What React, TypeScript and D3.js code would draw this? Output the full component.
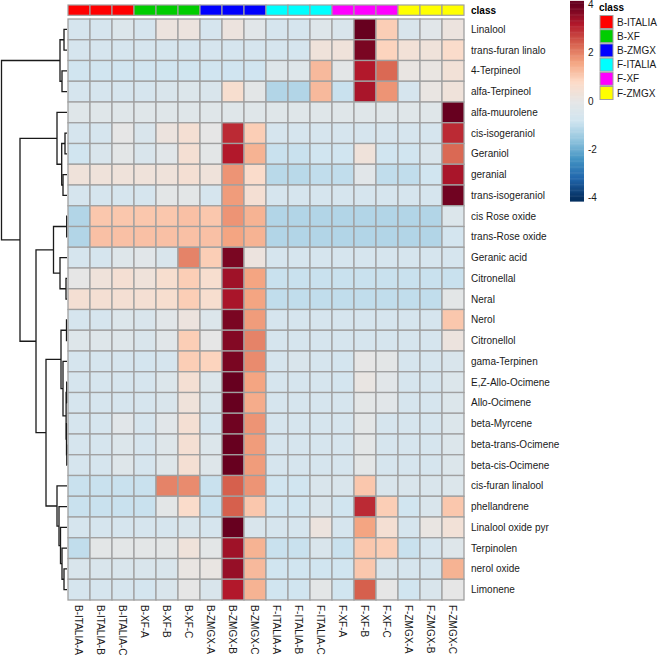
import React from "react";
import * as d3 from "d3";

// row and column labels (order as drawn)
const rowNames = [
  "Linalool", "trans-furan linalo", "4-Terpineol", "alfa-Terpineol", "alfa-muurolene",
  "cis-isogeraniol", "Geraniol", "geranial", "trans-isogeraniol", "cis Rose oxide",
  "trans-Rose oxide", "Geranic acid", "Citronellal", "Neral", "Nerol", "Citronellol",
  "gama-Terpinen", "E,Z-Allo-Ocimene", "Allo-Ocimene", "beta-Myrcene", "beta-trans-Ocimene",
  "beta-cis-Ocimene", "cis-furan linalool", "phellandrene", "Linalool oxide pyr",
  "Terpinolen", "nerol oxide", "Limonene",
];
const colNames = [
  "B-ITALIA-A", "B-ITALIA-B", "B-ITALIA-C", "B-XF-A", "B-XF-B", "B-XF-C",
  "B-ZMGX-A", "B-ZMGX-B", "B-ZMGX-C", "F-ITALIA-A", "F-ITALIA-B", "F-ITALIA-C",
  "F-XF-A", "F-XF-B", "F-XF-C", "F-ZMGX-A", "F-ZMGX-B", "F-ZMGX-C",
];
const colClass = [
  "B-ITALIA", "B-ITALIA", "B-ITALIA", "B-XF", "B-XF", "B-XF",
  "B-ZMGX", "B-ZMGX", "B-ZMGX", "F-ITALIA", "F-ITALIA", "F-ITALIA",
  "F-XF", "F-XF", "F-XF", "F-ZMGX", "F-ZMGX", "F-ZMGX",
];
const classNames = ["B-ITALIA", "B-XF", "B-ZMGX", "F-ITALIA", "F-XF", "F-ZMGX"];
const classColors = ["#FF0000", "#00CD00", "#0000FF", "#00FFFF", "#FF00FF", "#FFFF00"];
const legendTicks = [4, 2, 0, -2, -4];

// scaled values, one list per row
const values = [
  [-0.6, -0.6, -0.4, -0.6, 0.2, 0.2, -0.6, 0.2, -0.2, -0.6, -0.6, -0.3, -0.5, 4.0, 1.0, -0.5, -0.2, 0.2],
  [-0.6, -0.6, -0.6, -0.6, -0.6, -0.6, -0.6, -0.6, -0.6, -0.6, -0.6, 0.3, 0.3, 3.8, 0.9, 0.4, 0.3, 0.7],
  [-0.8, -0.8, -0.8, -0.8, -0.8, -0.8, -0.8, -0.8, -0.8, -0.3, -0.3, 1.3, -0.1, 3.2, 2.3, 0.1, 0.1, 0.4],
  [-0.6, -0.6, -0.6, -0.6, -0.5, -0.4, -0.5, 0.6, -0.1, -1.2, -1.2, 1.3, -0.9, 3.3, 1.8, -0.6, 0.1, 0.3],
  [-0.25, -0.25, -0.25, -0.25, -0.25, -0.25, -0.25, -0.25, -0.25, -0.25, -0.25, -0.25, -0.25, -0.25, -0.25, -0.25, -0.25, 4.2],
  [-0.6, -0.6, 0, -0.5, 0.2, 0.5, 0, 3.0, 1.0, -0.6, -0.6, -0.6, -0.6, -0.6, -0.6, -0.6, -0.6, 3.0],
  [-0.8, -0.5, -0.1, -0.5, -0.2, 0.5, -0.1, 3.2, 1.4, -0.9, -0.9, -0.8, -0.8, 0.3, -0.8, -0.8, -0.5, 2.3],
  [0.3, 0.3, 0.3, 0.3, 0.3, 0.5, 0.3, 1.8, 0.7, -1.1, -1.1, -1.0, -1.0, -0.2, -1.0, -1.0, -0.8, 3.3],
  [-0.6, -0.6, -0.6, -0.6, -0.1, -0.1, -0.6, 1.7, 0.5, -0.6, -0.6, -0.6, -0.6, -0.6, -0.6, -0.6, -0.6, 3.9],
  [-1.2, 1.1, 1.1, 1.1, 1.1, 1.2, 1.1, 1.8, 1.4, -1.2, -1.2, -1.2, -1.2, -1.2, -1.2, -1.2, -1.2, -0.4],
  [-1.2, 1.2, 1.2, 1.2, 1.2, 1.2, 1.2, 1.6, 1.4, -1.2, -1.2, -1.2, -1.2, -1.2, -1.2, -1.2, -1.2, -0.7],
  [-0.6, -0.6, -0.3, -0.2, -0.5, 2.0, 1.0, 3.8, 0.2, -0.6, -0.6, -0.6, -0.6, -0.6, -0.6, -0.6, -0.6, -0.6],
  [0, 0.3, 0.5, 0.3, 0.6, 1.0, 0.6, 3.4, 1.6, -0.9, -0.9, -0.9, -0.9, -0.9, -0.9, -0.9, -0.9, -0.9],
  [0.5, 0.5, 0.5, 0.5, 0.6, 1.0, 0.6, 3.3, 1.6, -1.0, -1.0, -1.0, -1.0, -1.0, -1.0, -1.0, -1.0, -0.1],
  [-0.6, -0.6, -0.4, -0.5, -0.2, 0.2, -0.4, 3.8, 1.7, -0.6, -0.6, -0.6, -0.6, -0.6, -0.6, -0.6, -0.6, 1.1],
  [-0.3, -0.3, -0.3, -0.5, -0.2, 1.0, 0, 3.7, 2.0, -0.6, -0.6, -0.6, -0.6, -0.6, -0.6, -0.6, -0.6, 0.2],
  [-0.6, -0.6, -0.6, -0.7, -0.6, 1.0, 0.9, 3.8, 1.9, -0.6, -0.5, -0.6, -0.7, 0, -0.1, -0.6, -0.6, -0.5],
  [-0.6, -0.6, -0.6, -0.6, -0.4, 0.5, -0.4, 4.0, 1.6, -0.6, -0.6, -0.6, -0.7, 0.1, -0.2, -0.6, -0.6, -0.4],
  [-0.6, -0.6, -0.6, -0.6, -0.5, 0.3, -0.5, 4.1, 1.5, -0.6, -0.6, -0.6, -0.6, -0.1, -0.2, -0.6, -0.6, -0.4],
  [-0.6, -0.6, -0.2, -0.6, -0.2, 0.5, -0.6, 3.9, 1.8, -0.6, -0.6, -0.6, -0.6, -0.1, -0.6, -0.6, -0.6, -0.4],
  [-0.6, -0.6, -0.4, -0.6, -0.3, 0.5, -0.4, 4.0, 1.7, -0.6, -0.6, -0.6, -0.6, -0.1, -0.6, -0.6, -0.6, -0.4],
  [-0.6, -0.6, -0.3, -0.6, -0.3, 0.5, -0.3, 4.0, 1.7, -0.6, -0.6, -0.6, -0.6, -0.1, -0.6, -0.6, -0.6, -0.4],
  [-0.9, -0.9, -0.9, -0.9, 2.0, 1.9, -0.9, 2.4, 1.8, -0.8, -0.8, -0.5, -0.5, 1.1, -0.5, -0.5, -0.5, -0.4],
  [-0.9, -0.9, -0.9, -0.9, -0.1, 0.7, -0.9, 2.4, 1.1, -0.8, -0.8, -0.5, -0.8, 3.0, 1.0, -0.8, -0.5, 1.1],
  [-0.6, -0.6, -0.6, -0.6, -0.6, -0.5, -0.6, 4.0, -0.5, -0.6, -0.6, 0.2, -0.6, 1.6, 0.5, -0.6, 0.1, 0.4],
  [-1.0, -0.1, -0.1, -0.1, -0.1, 0.3, -0.1, 3.4, 1.4, -0.9, -0.9, -0.5, -0.9, 1.1, 1.0, -0.9, -0.6, -0.3],
  [-0.5, -0.5, -0.5, -0.5, -0.5, 0.1, 0.1, 3.5, 1.3, -0.8, -0.8, -0.8, -0.8, 1.1, -0.5, -0.6, -0.6, 1.4],
  [-0.6, -0.6, -0.6, -0.7, -0.5, 0, -0.5, 3.2, 1.4, -0.8, -0.8, -0.1, -0.8, 2.4, 0, -0.8, -0.5, 0],
];

// row dendrogram: merge heights
type Node = { h: number; name?: string; children?: Node[] };
const n = (h: number, a: Node | string, b: Node | string): Node => ({
  h,
  children: [a, b].map((c) => (typeof c === "string" ? { h: 0, name: c } : c)),
});
const rowTree = n(65.5,
  n(7, n(3, "Linalool", "trans-furan linalo"), n(5, "4-Terpineol", "alfa-Terpineol")),
  n(47,
    n(10, "alfa-muurolene",
      n(5.3, n(2, "cis-isogeraniol", "Geraniol"), n(4, "geranial", "trans-isogeraniol"))),
    n(31,
      n(13.5, n(0.3, "cis Rose oxide", "trans-Rose oxide"),
        n(7, "Geranic acid", n(1, "Citronellal", "Neral"))),
      n(21,
        n(6, n(0.5, "Nerol", "Citronellol"),
          n(4, "gama-Terpinen",
            n(0.9, n(0.3, "E,Z-Allo-Ocimene", "Allo-Ocimene"),
              n(0.5, "beta-Myrcene", n(0.2, "beta-trans-Ocimene", "beta-cis-Ocimene"))))),
        n(10, "cis-furan linalool",
          n(8, "phellandrene",
            n(6.5, "Linalool oxide pyr",
              n(5, "Terpinolen", n(3, "nerol oxide", "Limonene")))))))));

const FONT = "Liberation Sans, Arial, sans-serif";

export default function App() {
  const width = 660;
  const height = 658;

  const x = d3.scaleBand<string>().domain(colNames).range([68, 464]);
  const y = d3.scaleBand<string>().domain(rowNames).range([19, 600]);
  const color = d3
    .scaleLinear<string>()
    .domain([-4, -3.2, -2.4, -1.6, -0.8, 0, 0.8, 1.6, 2.4, 3.2, 4])
    .range(["#053061", "#2166AC", "#4393C3", "#92C5DE", "#D1E5F0", "#E6E6E6",
      "#FDDBC7", "#F4A582", "#D6604D", "#B2182B", "#67001F"])
    .clamp(true);
  const classColor = d3.scaleOrdinal<string, string>().domain(classNames).range(classColors);

  // dendrogram layout
  const root = d3.hierarchy<Node>(rowTree);
  const hx = d3.scaleLinear().domain([0, rowTree.h]).range([67, 1.5]);
  root.eachAfter((d: any) => {
    d.py = d.children
      ? d3.mean(d.children, (c: any) => c.py)
      : (y(d.data.name) as number) + y.bandwidth() / 2;
  });
  const segs: string[] = [];
  root.each((d: any) => {
    if (!d.children) return;
    const xp = hx(d.data.h);
    const [a, b] = d.children;
    segs.push(`M${hx(a.data.h)},${a.py}H${xp}V${b.py}H${hx(b.data.h)}`);
  });

  // legend colour bar
  const ly = d3.scaleLinear().domain([-4, 4]).range([197.5, 4.5]);
  const steps = d3.range(-4.15, 4.15, 0.05);

  return (
    <div style={{ position: "absolute", left: 0, top: 0 }}>
      <svg width={width} height={height} style={{ display: "block", background: "#fff" }}>
        {/* dendrogram */}
        <g fill="none" stroke="#1a1a1a" strokeWidth={1.3}>
          {segs.map((p, i) => <path key={i} d={p} />)}
        </g>

        {/* class annotation */}
        <g stroke="#A0A0A0" strokeWidth={1.2}>
          {colNames.map((c, i) => (
            <rect key={c} x={x(c)} y={5} width={x.bandwidth()} height={10.3}
              fill={classColor(colClass[i])} />
          ))}
        </g>
        <text x={471} y={10.2} dy="0.35em" fontFamily={FONT} fontSize={10} fontWeight="bold">class</text>

        {/* heatmap cells */}
        <g stroke="#A0A0A0" strokeWidth={1.3}>
          {values.map((row, r) =>
            row.map((v, c) => (
              <rect key={`${r}-${c}`} x={x(colNames[c])} y={y(rowNames[r])}
                width={x.bandwidth()} height={y.bandwidth()} fill={color(v)} />
            ))
          )}
        </g>

        {/* row labels */}
        <g fontFamily={FONT} fontSize={10} fill="#1a1a1a">
          {rowNames.map((r) => (
            <text key={r} x={471} y={(y(r) as number) + y.bandwidth() / 2} dy="0.35em">{r}</text>
          ))}
        </g>

        {/* column labels */}
        <g fontFamily={FONT} fontSize={10} fill="#1a1a1a">
          {colNames.map((c) => {
            const cx = (x(c) as number) + x.bandwidth() / 2 - 3.6;
            return (
              <text key={c} transform={`translate(${cx},605) rotate(90)`}>{c}</text>
            );
          })}
        </g>

        {/* colour legend */}
        <g>
          {steps.map((s) => (
            <rect key={s} x={570} y={ly(s + 0.05)} width={14} height={ly(s) - ly(s + 0.05) + 0.5}
              fill={color(s + 0.025)} />
          ))}
          {legendTicks.map((t) => (
            <text key={t} x={588} y={ly(t)} dy="0.35em" fontFamily={FONT} fontSize={10}
              fill="#1a1a1a">{t}</text>
          ))}
        </g>

        {/* class legend */}
        <g fontFamily={FONT} fontSize={10}>
          <text x={599} y={7.5} dy="0.35em" fontWeight="bold">class</text>
          {classNames.map((k, i) => (
            <g key={k} transform={`translate(600,${15.5 + i * 14.2})`}>
              <rect width={13} height={13} fill={classColors[i]} stroke="#A0A0A0" strokeWidth={1} />
              <text x={17} y={6.5} dy="0.35em" fill="#1a1a1a">{k}</text>
            </g>
          ))}
        </g>
      </svg>
    </div>
  );
}
